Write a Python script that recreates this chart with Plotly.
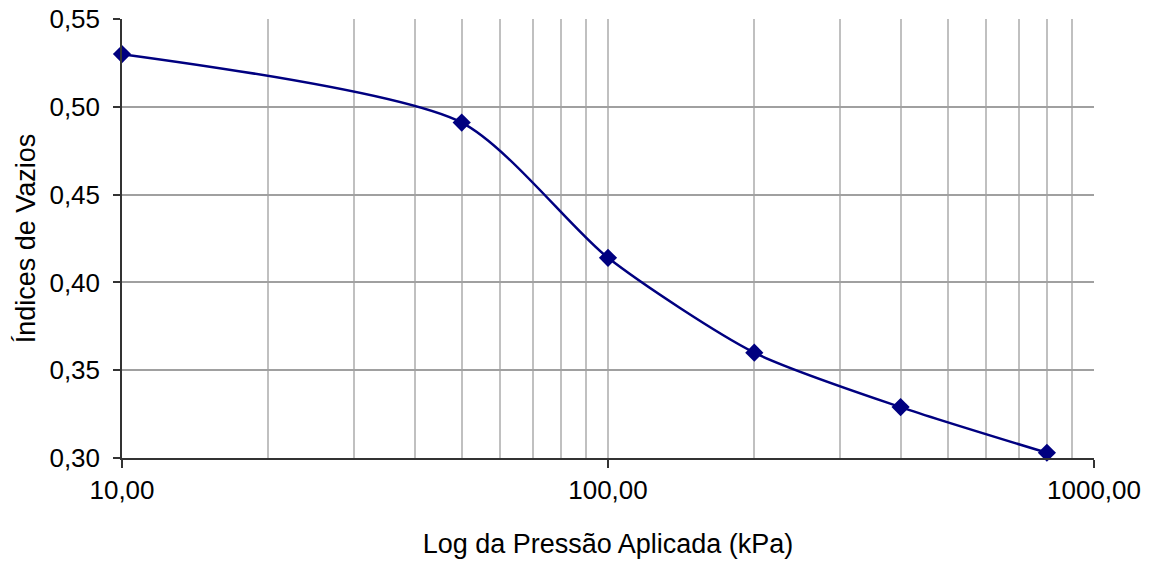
import plotly.graph_objects as go

pressao = [10, 50, 100, 200, 400, 800]
indice_vazios = [0.530, 0.491, 0.414, 0.360, 0.329, 0.303]

x_tickvals = [10, 100, 1000]
x_ticktext = ["10,00", "100,00", "1000,00"]
x_minor = [20, 30, 40, 50, 60, 70, 80, 90, 200, 300, 400, 500, 600, 700, 800, 900]
y_tickvals = [0.30, 0.35, 0.40, 0.45, 0.50, 0.55]
y_ticktext = ["0,30", "0,35", "0,40", "0,45", "0,50", "0,55"]

navy = "#000080"
font = "Liberation Sans, Arial, sans-serif"
fsize = 26

fig = go.Figure()
fig.add_trace(go.Scatter(
    x=pressao, y=indice_vazios, mode="lines+markers",
    line=dict(color=navy, width=2.5, shape="spline", smoothing=0.7),
    marker=dict(symbol="diamond", size=14, color=navy),
    cliponaxis=False,
    showlegend=False,
))

fig.update_layout(
    width=1151, height=561,
    margin=dict(l=122, r=57, t=19, b=103, autoexpand=False),
    paper_bgcolor="white", plot_bgcolor="white",
    font=dict(family=font, size=fsize, color="black"),
    xaxis=dict(
        type="log", range=[1, 3], automargin=False,
        tickvals=x_tickvals, ticktext=x_ticktext,
        tickfont=dict(size=fsize),
        ticks="outside", ticklen=8, tickcolor="#333", tickwidth=1.5,
        showline=True, linecolor="#333", linewidth=1.5,
        showgrid=True, gridcolor="#c0c0c0", gridwidth=1.5,
        minor=dict(tickvals=x_minor, showgrid=True, gridcolor="#c0c0c0", gridwidth=1.5, ticks=""),
        title=dict(text="Log da Pressão Aplicada (kPa)", standoff=30, font=dict(size=27)),
        zeroline=False,
    ),
    yaxis=dict(
        range=[0.30, 0.55], automargin=False,
        tickvals=y_tickvals, ticktext=y_ticktext,
        tickfont=dict(size=fsize),
        ticks="outside", ticklen=7, tickcolor="#333", tickwidth=1.5,
        ticklabelstandoff=8,
        showline=True, linecolor="#333", linewidth=1.5,
        showgrid=True, gridcolor="#a0a0a0", gridwidth=1.5,
        title=dict(text="Índices de Vazios", standoff=6, font=dict(size=27)),
        zeroline=False,
    ),
)

fig.write_html("out.html")
